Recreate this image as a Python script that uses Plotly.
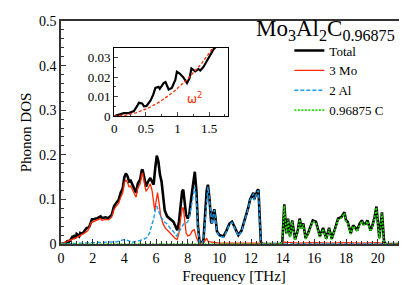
import plotly.graph_objects as go

# ---------------- data ----------------
tot_f = [0, 0.1, 0.15, 0.23, 0.31, 0.365, 0.39, 0.44, 0.47, 0.51, 0.574, 0.616, 0.65, 0.70, 0.72,
         0.78, 0.81, 0.86, 0.91, 0.966, 0.99, 1.03, 1.09, 1.15, 1.19, 1.22, 1.245, 1.28, 1.33, 1.36,
         1.41, 1.46, 1.51, 1.57, 1.62, 1.68, 1.75, 1.8, 1.85, 1.95, 2.1, 2.3, 2.5, 2.6, 2.8, 3.0,
         3.1, 3.2, 3.35, 3.5, 3.65, 3.77, 3.9, 4.0, 4.1, 4.2, 4.3, 4.4, 4.5, 4.6, 4.74, 4.85, 5.0,
         5.1, 5.15, 5.25, 5.37, 5.5, 5.64, 5.75, 5.85, 5.95, 6.05, 6.15, 6.25, 6.35, 6.45, 6.55,
         6.7, 6.9, 7.1, 7.25, 7.34, 7.45, 7.55, 7.65, 7.72, 7.8, 7.9, 8.0, 8.1, 8.25, 8.35, 8.45,
         8.55, 8.65, 8.75, 8.85, 9.0, 9.1, 9.2, 9.28, 9.38, 9.48, 9.53, 9.62, 9.68, 9.75, 9.85,
         10.0, 10.26, 10.45, 10.64, 10.8, 10.95, 11.1, 11.2, 11.4, 11.6, 11.75, 11.83, 11.94,
         12.05, 12.15, 12.2, 12.3, 12.4, 12.47, 12.55, 12.62, 12.7, 13.9, 13.98, 14.1, 14.23,
         14.34, 14.46, 14.6, 14.78, 14.95, 15.07, 15.2, 15.3, 15.45, 15.6, 15.75, 15.9, 16.1,
         16.35, 16.55, 16.75, 16.93, 17.1, 17.3, 17.5, 17.7, 17.9, 18.0, 18.1, 18.3, 18.45, 18.6,
         18.7, 18.85, 19.0, 19.1, 19.25, 19.35, 19.55, 19.67, 19.8, 19.92, 20.1, 20.27, 20.4,
         20.5, 21.85]
tot_v = [0, 0.001, 0.0015, 0.0015, 0.0025, 0.0053, 0.0068, 0.0065, 0.005, 0.0052, 0.008, 0.011,
         0.0145, 0.015, 0.014, 0.017, 0.0175, 0.0137, 0.0145, 0.0187, 0.0228, 0.022, 0.02, 0.017,
         0.0195, 0.0245, 0.024, 0.023, 0.0242, 0.0235, 0.0253, 0.028, 0.031, 0.0345, 0.036, 0.036,
         0.037, 0.040, 0.044, 0.055, 0.056, 0.058, 0.062, 0.058, 0.060, 0.058, 0.062, 0.065, 0.085,
         0.092, 0.100, 0.115, 0.125, 0.150, 0.158, 0.152, 0.140, 0.142, 0.133, 0.128, 0.115, 0.135,
         0.145, 0.165, 0.167, 0.150, 0.129, 0.140, 0.148, 0.140, 0.133, 0.170, 0.198, 0.185, 0.155,
         0.140, 0.110, 0.075, 0.062, 0.056, 0.050, 0.038, 0.031, 0.050, 0.090, 0.118, 0.122, 0.090,
         0.065, 0.057, 0.065, 0.110, 0.140, 0.162, 0.120, 0.040, 0.005, 0.0, 0.010, 0.060, 0.120,
         0.133, 0.100, 0.050, 0.046, 0.070, 0.078, 0.060, 0.028, 0.020, 0.017, 0.030, 0.046, 0.050,
         0.040, 0.028, 0.020, 0.030, 0.053, 0.070, 0.082, 0.100, 0.110, 0.115, 0.100, 0.110, 0.120,
         0.122, 0.060, 0.005, 0.0, 0.0, 0.006, 0.089, 0.024, 0.057, 0.017, 0.053, 0.010, 0.030,
         0.057, 0.035, 0.046, 0.013, 0.024, 0.040, 0.053, 0.050, 0.017, 0.036, 0.012, 0.036, 0.012,
         0.034, 0.057, 0.060, 0.071, 0.053, 0.050, 0.024, 0.042, 0.036, 0.030, 0.045, 0.053, 0.045,
         0.046, 0.053, 0.030, 0.042, 0.060, 0.084, 0.013, 0.071, 0.006, 0.0, 0.0]

mo_f = [0, 0.5, 1.0, 1.5, 1.7, 1.9, 2.1, 2.3, 2.5, 2.6, 2.8, 3.0, 3.1, 3.2, 3.35, 3.5, 3.65, 3.77,
        3.9, 4.0, 4.1, 4.2, 4.3, 4.4, 4.5, 4.6, 4.74, 4.85, 5.0, 5.1, 5.15, 5.25, 5.37, 5.5, 5.64,
        5.75, 5.85, 5.92, 6.0, 6.1, 6.2, 6.3, 6.45, 6.6, 6.8, 7.0, 7.2, 7.34, 7.45, 7.55, 7.65,
        7.72, 7.8, 7.9, 8.0, 8.15, 8.3, 8.42, 8.55, 8.7, 9.0, 9.2, 9.3, 9.6, 10.0, 12.5, 12.7,
        14.0, 14.1, 15.0, 16.0, 17.0, 18.0, 19.0, 20.0, 20.5, 21.85]
mo_v = [0, 0.008, 0.015, 0.025, 0.030, 0.048, 0.051, 0.053, 0.057, 0.053, 0.055, 0.054, 0.058,
        0.060, 0.078, 0.085, 0.092, 0.105, 0.115, 0.138, 0.143, 0.138, 0.128, 0.130, 0.122, 0.117,
        0.105, 0.125, 0.135, 0.155, 0.160, 0.140, 0.118, 0.125, 0.135, 0.120, 0.085, 0.075, 0.095,
        0.115, 0.090, 0.062, 0.045, 0.035, 0.028, 0.020, 0.013, 0.010, 0.025, 0.055, 0.078, 0.082,
        0.050, 0.025, 0.018, 0.020, 0.030, 0.032, 0.015, 0.002, 0.002, 0.013, 0.005, 0.003, 0.002,
        0.002, 0.0, 0.0, 0.004, 0.002, 0.003, 0.002, 0.003, 0.002, 0.003, 0.0, 0.0]

al_f = [0, 1.0, 2.0, 3.0, 3.5, 3.8, 4.0, 4.2, 4.5, 4.8, 5.0, 5.2, 5.4, 5.6, 5.75, 5.85, 5.95, 6.05,
        6.15, 6.3, 6.5, 6.7, 6.9, 7.1, 7.3, 7.5, 7.65, 7.75, 7.9, 8.0, 8.1, 8.25, 8.35, 8.45, 8.55,
        8.65, 8.75, 8.85, 9.0, 9.1, 9.2, 9.28, 9.38, 9.48, 9.53, 9.62, 9.68, 9.75, 9.85, 10.0,
        10.26, 10.45, 10.64, 10.8, 10.95, 11.1, 11.2, 11.4, 11.6, 11.75, 11.83, 11.94, 12.05,
        12.15, 12.2, 12.3, 12.4, 12.47, 12.55, 12.62, 12.7, 21.85]
al_v = [0, 0.001, 0.002, 0.003, 0.005, 0.008, 0.010, 0.008, 0.004, 0.006, 0.008, 0.010, 0.014,
        0.025, 0.045, 0.055, 0.075, 0.085, 0.075, 0.062, 0.050, 0.045, 0.035, 0.028, 0.018, 0.030,
        0.042, 0.045, 0.046, 0.050, 0.058, 0.085, 0.110, 0.128, 0.100, 0.035, 0.003, 0.0, 0.008,
        0.057, 0.106, 0.128, 0.097, 0.048, 0.044, 0.068, 0.076, 0.058, 0.026, 0.018, 0.015, 0.028,
        0.044, 0.048, 0.038, 0.026, 0.018, 0.028, 0.051, 0.068, 0.080, 0.098, 0.108, 0.113, 0.098,
        0.108, 0.118, 0.120, 0.058, 0.004, 0.0, 0.0]

c_f = [0, 13.9, 13.98, 14.1, 14.23, 14.34, 14.46, 14.6, 14.78, 14.95, 15.07, 15.2, 15.3, 15.45,
       15.6, 15.75, 15.9, 16.1, 16.35, 16.55, 16.75, 16.93, 17.1, 17.3, 17.5, 17.7, 17.9, 18.0,
       18.1, 18.3, 18.45, 18.6, 18.7, 18.85, 19.0, 19.1, 19.25, 19.35, 19.55, 19.67, 19.8, 19.92,
       20.1, 20.27, 20.4, 20.5, 21.85]
c_v = [0, 0.0, 0.005, 0.086, 0.022, 0.055, 0.015, 0.051, 0.008, 0.028, 0.055, 0.033, 0.044,
       0.011, 0.022, 0.038, 0.051, 0.048, 0.015, 0.034, 0.010, 0.034, 0.010, 0.032, 0.055, 0.058,
       0.069, 0.051, 0.048, 0.022, 0.040, 0.034, 0.028, 0.043, 0.051, 0.043, 0.044, 0.051, 0.028,
       0.040, 0.058, 0.082, 0.011, 0.069, 0.005, 0.0, 0.0]

# omega^2 (Debye) reference curve in the inset
w2_coef = 0.0142
w2_f = [i * 0.02 for i in range(0, 91)]
w2_v = [w2_coef * f * f for f in w2_f]

x_ticks = [0, 2, 4, 6, 8, 10, 12, 14, 16, 18, 20]
y_ticks = [0, 0.1, 0.2, 0.3, 0.4, 0.5]
y_tick_text = ["0", "0.1", "0.2", "0.3", "0.4", "0.5"]
ix_ticks = [0, 0.5, 1, 1.5]
ix_text = ["0", "0.5", "1", "1.5"]
iy_ticks = [0, 0.01, 0.02, 0.03]
iy_text = ["0", "0.01", "0.02", "0.03"]

FONT = "Times New Roman"
AXFONT = "Times New Roman"

fig = go.Figure()
fig.add_trace(go.Scatter(x=tot_f, y=tot_v, mode="lines", name="Total",
                         line=dict(color="black", width=2.6)))
fig.add_trace(go.Scatter(x=mo_f, y=mo_v, mode="lines", name="3 Mo",
                         line=dict(color="#ff2a00", width=1.3)))
fig.add_trace(go.Scatter(x=al_f, y=al_v, mode="lines", name="2 Al",
                         line=dict(color="#1c9cf0", width=1.4, dash="4px,2px")))
fig.add_trace(go.Scatter(x=c_f, y=c_v, mode="lines", name="0.96875 C",
                         line=dict(color="#22dd00", width=1.6, dash="2px,1.5px")))
# inset
fig.add_trace(go.Scatter(x=tot_f, y=tot_v, mode="lines", showlegend=False,
                         line=dict(color="black", width=2.2), xaxis="x2", yaxis="y2"))
fig.add_trace(go.Scatter(x=w2_f, y=w2_v, mode="lines", showlegend=False,
                         line=dict(color="#ff2a00", width=1.3, dash="3px,2px"),
                         xaxis="x2", yaxis="y2"))

axis_common = dict(showline=True, mirror=True, linecolor="#333", ticks="inside",
                   tickcolor="#333", showgrid=False, zeroline=False,
                   tickfont=dict(family=AXFONT, size=14, color="black"))

fig.update_layout(
    width=407, height=285,
    margin=dict(l=53, r=6, t=6, b=49),
    paper_bgcolor="white", plot_bgcolor="white",
    font=dict(family=FONT, color="black"),
    xaxis=dict(range=[0, 21.85], tickvals=x_ticks, ticklen=5, linewidth=1.6,
               title=dict(text="Frequency [THz]", font=dict(family=AXFONT, size=15), standoff=6),
               minor=dict(ticks="inside", dtick=1/3, ticklen=3, tickcolor="#333"),
               **axis_common),
    yaxis=dict(range=[0, 0.5], tickvals=y_ticks, ticktext=y_tick_text, ticklen=5, linewidth=1.6,
               title=dict(text="Phonon DOS", font=dict(family=AXFONT, size=15), standoff=4),
               minor=dict(ticks="inside", dtick=0.02, ticklen=3, tickcolor="#333"),
               **axis_common),
    xaxis2=dict(domain=[0.154, 0.483], anchor="y2", range=[0, 1.8], tickvals=ix_ticks,
                ticktext=ix_text, ticklen=4, showline=True, mirror=True, linecolor="black",
                linewidth=1.4, ticks="inside", showgrid=False, zeroline=False,
                minor=dict(ticks="inside", dtick=0.25, ticklen=2),
                tickfont=dict(family=AXFONT, size=13, color="black")),
    yaxis2=dict(domain=[0.574, 0.881], anchor="x2", range=[0, 0.0353], tickvals=iy_ticks,
                ticktext=iy_text, ticklen=4, showline=True, mirror=True, linecolor="black",
                linewidth=1.4, ticks="inside", showgrid=False, zeroline=False,
                minor=dict(ticks="inside", dtick=0.005, ticklen=2),
                tickfont=dict(family=AXFONT, size=13, color="black")),
    legend=dict(x=0.66, y=0.935, xanchor="left", yanchor="top", bgcolor="rgba(0,0,0,0)",
                font=dict(family=FONT, size=13, color="black"), itemwidth=30,
                tracegroupgap=0),
    showlegend=True,
)

fig.add_annotation(text="Mo<sub>3</sub>Al<sub>2</sub>C<sub>0.96875</sub>", xref="paper",
                   yref="paper", x=0.972, y=1.03, xanchor="right", yanchor="top",
                   showarrow=False, font=dict(family=FONT, size=23, color="black"))
fig.add_annotation(text="ω<sup>2</sup>", xref="x2", yref="y2", x=1.27, y=0.0095,
                   xanchor="center", yanchor="middle", showarrow=False,
                   font=dict(family="DejaVu Sans", size=12, color="#ff2a00"))

fig.write_html("out.html")
